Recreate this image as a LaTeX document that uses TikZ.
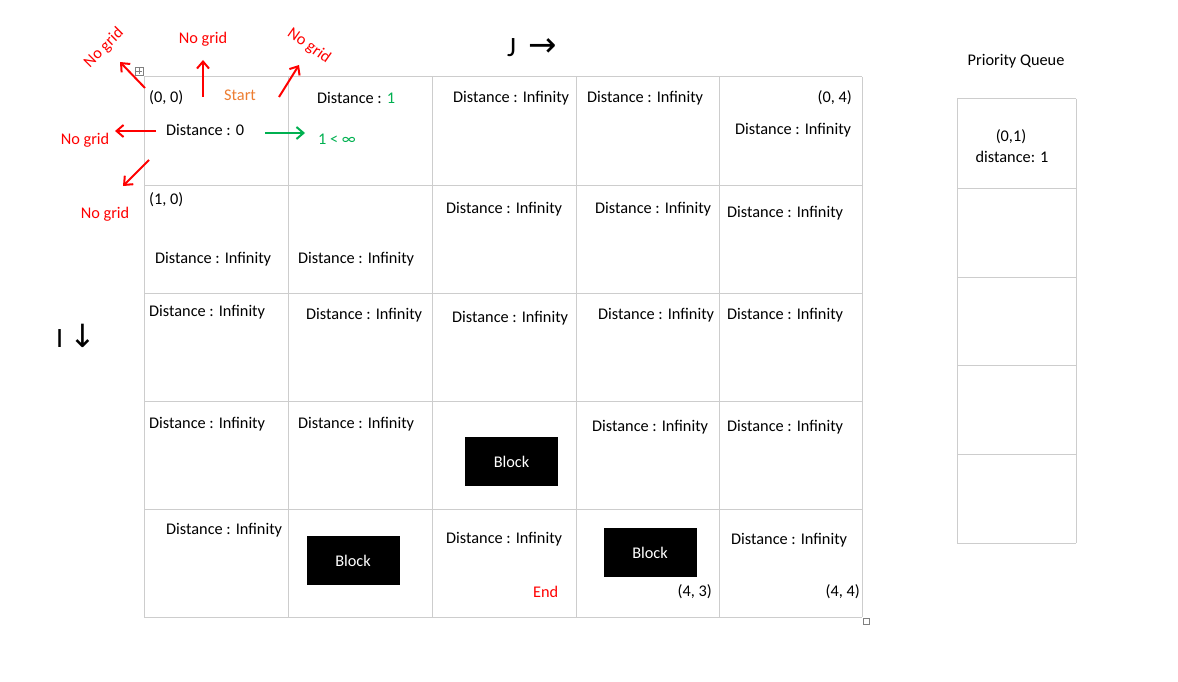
\documentclass[tikz,border=0pt]{standalone}
\usepackage{fontspec}
\setmainfont{Carlito}
\newfontfamily\symfont{DejaVu Sans}
\usetikzlibrary{arrows.meta}
\definecolor{gridgray}{RGB}{205,205,205}
\definecolor{nogridred}{RGB}{255,0,0}
\definecolor{startorange}{RGB}{237,125,49}
\definecolor{okgreen}{RGB}{0,176,80}
\tikzset{
  txt/.style={font=\fontsize{16.3}{19}\selectfont, inner sep=0pt, anchor=west},
  txtr/.style={txt, anchor=east},
  gridline/.style={draw=gridgray, line width=1pt},
  blockbox/.style={fill=black, minimum width=93pt, minimum height=49pt, inner sep=0pt,
    text=white, font=\fontsize{16.3}{19}\selectfont},
  redarrow/.style={draw=nogridred, line width=2pt, -{Straight Barb[length=7pt,width=12pt,line width=2pt]}},
  greenarrow/.style={draw=okgreen, line width=2pt, -{Straight Barb[length=7pt,width=12pt,line width=2pt]}},
  redlabel/.style={font=\fontsize{16.3}{19}\selectfont, text=nogridred, inner sep=0pt},
  axislabel/.style={font=\fontsize{28}{30}\selectfont, inner sep=0pt},
}
\begin{document}
\begin{tikzpicture}[x=1pt,y=-1pt]
\useasboundingbox (0,0) rectangle (1178,682);
% grid
\foreach \xx in {144,288,432,576,719,862} \draw[gridline] (\xx,77) -- (\xx,617);
\foreach \yy in {77,185,293,401,509,617} \draw[gridline] (144,\yy) -- (862,\yy);
% word artifacts
\node[draw=gray, line width=0.6pt, minimum size=8pt, inner sep=0pt] (handle) at (139,71) {};
\draw[gray, line width=0.5pt] (136,71) -- (142,71) (139,68) -- (139,74);
\node[draw=gray, line width=0.6pt, minimum size=6pt, inner sep=0pt] (corner) at (866,621) {};
% axis labels
\node[axislabel, anchor=west] (jlab) at (507,48) {J\hspace{12pt}{\symfont\fontsize{34}{34}\selectfont →}};
\node[axislabel, anchor=west] (ilab) at (56,336) {I\hspace{6pt}{\symfont\fontsize{32}{34}\selectfont ↓}};
% row 0
\node[txt] (c00pos) at (149,98) {(0, 0)};
\node[txt] (c00d) at (166,130) {Distance : 0};
\node[txt, text=startorange] (start) at (224,95) {Start};
\node[txt] (c01d) at (317,98) {Distance : \textcolor{okgreen}{1}};
\node[txt, text=okgreen] (cmp) at (318,139) {1 < ∞};
\node[txt] (c02d) at (453,98) {Distance : Infinity};
\node[txt] (c03d) at (587,98) {Distance : Infinity};
\node[txtr] (c04pos) at (852,98) {(0, 4)};
\node[txt] (c04d) at (735,130) {Distance : Infinity};
% row 1
\node[txt] (c10pos) at (149,200) {(1, 0)};
\node[txt] (c10d) at (155,259) {Distance : Infinity};
\node[txt] (c11d) at (298,259) {Distance : Infinity};
\node[txt] (c12d) at (446,209) {Distance : Infinity};
\node[txt] (c13d) at (595,209) {Distance : Infinity};
\node[txt] (c14d) at (727,213) {Distance : Infinity};
% row 2
\node[txt] (c20d) at (149,312) {Distance : Infinity};
\node[txt] (c21d) at (306,315) {Distance : Infinity};
\node[txt] (c22d) at (452,318) {Distance : Infinity};
\node[txt] (c23d) at (598,315) {Distance : Infinity};
\node[txt] (c24d) at (727,315) {Distance : Infinity};
% row 3
\node[txt] (c30d) at (149,424) {Distance : Infinity};
\node[txt] (c31d) at (298,424) {Distance : Infinity};
\node[blockbox] (b32) at (511.5,461.5) {Block};
\node[txt] (c33d) at (592,427) {Distance : Infinity};
\node[txt] (c34d) at (727,427) {Distance : Infinity};
% row 4
\node[txt] (c40d) at (166,530) {Distance : Infinity};
\node[blockbox] (b41) at (353,560.5) {Block};
\node[txt] (c42d) at (446,539) {Distance : Infinity};
\node[txt, text=nogridred] (endlab) at (533,592) {End};
\node[blockbox] (b43) at (650,552.5) {Block};
\node[txtr] (c43pos) at (712,592) {(4, 3)};
\node[txt] (c44d) at (731,540) {Distance : Infinity};
\node[txtr] (c44pos) at (860,592) {(4, 4)};
% priority queue
\node[font=\fontsize{16.3}{19}\selectfont, inner sep=0pt] (pqtitle) at (1016,61) {Priority Queue};
\foreach \yy in {99,188,277,365,454,543} \draw[gridline] (957,\yy) -- (1076,\yy);
\draw[gridline] (957,99) -- (957,543);
\draw[gridline] (1076,99) -- (1076,543);
\node[font=\fontsize{16.3}{19}\selectfont, inner sep=0pt] (pq1a) at (1011,137) {(0,1)};
\node[font=\fontsize{16.3}{19}\selectfont, inner sep=0pt] (pq1b) at (1012,157) {distance: 1};
% arrows
\coordinate (nwS) at (145,88);  \coordinate (nwE) at (120,62);
\coordinate (nS) at (203,97);   \coordinate (nE) at (203,60);
\coordinate (neS) at (279,97);  \coordinate (neE) at (299,65);
\coordinate (wS) at (156,131);  \coordinate (wE) at (115,131);
\coordinate (swS) at (149,160); \coordinate (swE) at (123,186);
\coordinate (eS) at (265,133);  \coordinate (eE) at (305,133);
\draw[redarrow] (nwS) -- (nwE);
\draw[redarrow] (nS) -- (nE);
\draw[redarrow] (neS) -- (neE);
\draw[redarrow] (wS) -- (wE);
\draw[redarrow] (swS) -- (swE);
\draw[greenarrow] (eS) -- (eE);
\node[redlabel, rotate=45] (ng1) at (104,48) {No grid};
\node[redlabel] (ng2) at (203,39) {No grid};
\node[redlabel, rotate=-35] (ng3) at (309,46) {No grid};
\node[redlabel] (ng4) at (85,140) {No grid};
\node[redlabel] (ng5) at (105,214) {No grid};
\end{tikzpicture}
\end{document}
